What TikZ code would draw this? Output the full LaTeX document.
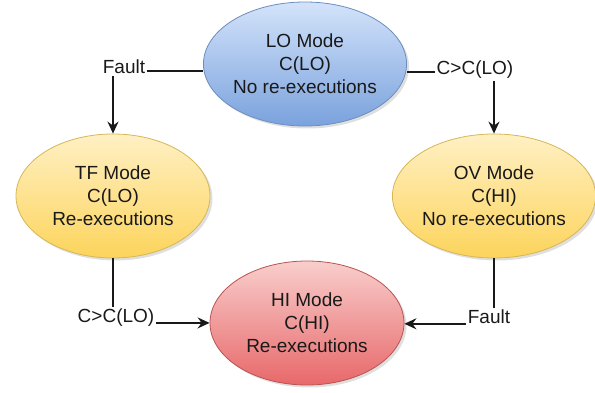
\documentclass[tikz,border=0pt]{standalone}
\usepackage{fontspec}
\setmainfont{Liberation Sans}
\usetikzlibrary{shapes.geometric,shadows,arrows.meta}

\definecolor{loTop}{HTML}{D3E3FA}
\definecolor{loBot}{HTML}{7AA2DD}
\definecolor{loLine}{HTML}{6C8EBF}
\definecolor{ylTop}{HTML}{FFF0C4}
\definecolor{ylBot}{HTML}{FCD45C}
\definecolor{ylLine}{HTML}{D6B656}
\definecolor{hiTop}{HTML}{F8CECC}
\definecolor{hiBot}{HTML}{E8686A}
\definecolor{hiLine}{HTML}{B85450}

\tikzset{
	mode/.style={ellipse, draw, line width=0.8pt, inner sep=0pt,
		minimum width=194pt, minimum height=124pt, align=center,
		text=black!90, font=\fontsize{19}{23}\selectfont,
		drop shadow={shadow xshift=2.5pt, shadow yshift=-2.5pt, opacity=0.25}},
	lomode/.style={mode, draw=loLine, top color=loTop, bottom color=loBot},
	ylmode/.style={mode, draw=ylLine, top color=ylTop, bottom color=ylBot},
	himode/.style={mode, draw=hiLine, top color=hiTop, bottom color=hiBot},
	lbl/.style={inner sep=2pt, text=black!90, font=\fontsize{19}{23}\selectfont},
	conn/.style={line width=1.6pt, draw=black!90},
	tip/.style={conn, -{Stealth[length=12pt, width=11pt, inset=4pt]}}
}

\begin{document}
\begin{tikzpicture}[x=1pt, y=-1pt]
	\useasboundingbox (0,0) rectangle (595,393);

	%% the four modes
	\node[lomode] at (305,64)(lo){LO Mode\\C(LO)\\No re-executions};
	\node[ylmode] at (113,196)(tf){TF Mode\\C(LO)\\Re-executions};
	\node[ylmode] at (494,196)(ov){OV Mode\\C(HI)\\No re-executions};
	\node[himode] at (307,323)(hi){HI Mode\\C(HI)\\Re-executions};

	%% transition labels
	\node[lbl] at (124,67)(flt1){Fault};
	\node[lbl] at (475,70)(ovr1){C>C(LO)};
	\node[lbl] at (116,318)(ovr2){C>C(LO)};
	\node[lbl] at (489,317)(flt2){Fault};

	%% LO -> TF and LO -> OV
	\draw[conn] (lo.west |- flt1.mid east) -- (flt1.mid east);
	\draw[tip] (flt1.south -| tf.north) -- (tf.north);
	\draw[conn] (lo.east |- ovr1.mid west) -- (ovr1.mid west);
	\draw[tip] (ovr1.south -| ov.north) -- (ov.north);

	%% TF -> HI and OV -> HI
	\draw[conn] (tf.south) -- (tf.south |- ovr2.north);
	\draw[tip] (ovr2.base east) -- (ovr2.base east -| hi.west);
	\draw[conn] (ov.south) -- (ov.south |- flt2.north);
	\draw[tip] (flt2.base west) -- (flt2.base west -| hi.east);
\end{tikzpicture}
\end{document}
